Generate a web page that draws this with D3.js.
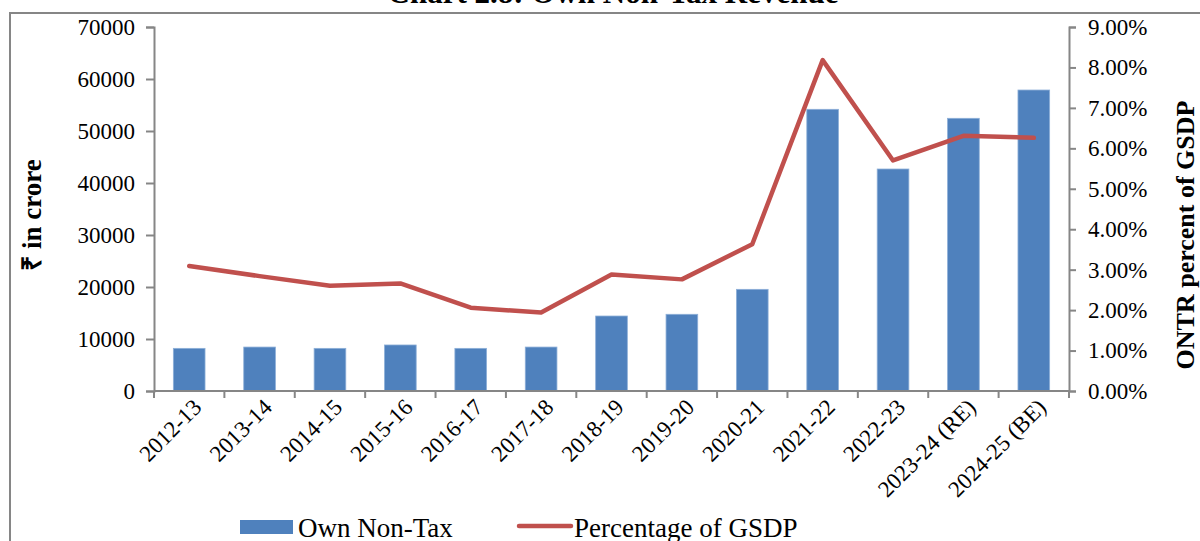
<!DOCTYPE html>
<html>
<head>
<meta charset="utf-8">
<script src="https://cdn.jsdelivr.net/npm/d3@7"></script>
<style>
  html, body { margin: 0; padding: 0; background: #fff; }
  svg { display: block; font-family: "Liberation Serif", "Times New Roman", serif; }
</style>
</head>
<body>
<svg id="chart" width="1200" height="541"></svg>
<script>
// Own non-tax revenue (₹ crore) and its share of GSDP, by year
const years = ["2012-13", "2013-14", "2014-15", "2015-16", "2016-17", "2017-18",
               "2018-19", "2019-20", "2020-21", "2021-22", "2022-23",
               "2023-24 (RE)", "2024-25 (BE)"];
const ownNonTax = [8200, 8450, 8200, 8850, 8200, 8450, 14420, 14750, 19550,
                   54170, 42690, 52440, 57880];
const pctGSDP = [3.09, 2.84, 2.60, 2.66, 2.06, 1.94, 2.88, 2.76, 3.63,
                 8.18, 5.70, 6.31, 6.26];
const leftTicks = [0, 10000, 20000, 30000, 40000, 50000, 60000, 70000];
const rightTicks = [0, 1, 2, 3, 4, 5, 6, 7, 8, 9];

const svg = d3.select("#chart");
const plot = { left: 154, right: 1069, top: 27, bottom: 391 };
const axisColor = "#868686";
const barColor = "#4F81BD";
const lineColor = "#C0504D";

// outer frame
svg.append("rect")
  .attr("x", 10).attr("y", 13)
  .attr("width", 1300).attr("height", 600)
  .attr("fill", "none").attr("stroke", axisColor).attr("stroke-width", 2);

// title
svg.append("text")
  .attr("x", 613).attr("y", 3)
  .attr("text-anchor", "middle")
  .attr("font-weight", "bold").attr("font-size", 31)
  .text("Chart 2.8: Own Non-Tax Revenue");

const x = d3.scaleBand().domain(years).range([plot.left, plot.right]).paddingInner(0.55).paddingOuter(0.275);
const xEdge = d3.scaleLinear().domain([0, years.length]).range([plot.left, plot.right]);
const yL = d3.scaleLinear().domain([0, 70000]).range([plot.bottom, plot.top]);
const yR = d3.scaleLinear().domain([0, 9]).range([plot.bottom, plot.top]);

// bars
svg.append("g").selectAll("rect")
  .data(ownNonTax)
  .join("rect")
  .attr("x", (d, i) => x(years[i]))
  .attr("y", d => yL(d))
  .attr("width", x.bandwidth())
  .attr("height", d => yL(0) - yL(d))
  .attr("fill", barColor)
  .attr("stroke", "#8DAFD8").attr("stroke-width", 0.8);

// left axis
const gL = svg.append("g").attr("transform", `translate(${plot.left},0)`)
  .call(d3.axisLeft(yL).tickValues(leftTicks).tickFormat(d3.format("d")).tickSizeOuter(0).tickSize(8).tickPadding(11));
// right axis
const gR = svg.append("g").attr("transform", `translate(${plot.right},0)`)
  .call(d3.axisRight(yR).tickValues(rightTicks).tickFormat(d => d.toFixed(2) + "%").tickSizeOuter(0).tickSize(7).tickPadding(12));
[gL, gR].forEach(g => {
  g.select(".domain").attr("stroke", axisColor).attr("stroke-width", 2);
  g.selectAll(".tick line").attr("stroke", axisColor).attr("stroke-width", 2);
  g.selectAll(".tick text").attr("font-size", 23).attr("fill", "#000")
    .attr("font-family", "Liberation Serif, Times New Roman, serif");
});

// x axis baseline and boundary ticks
const gX = svg.append("g");
gX.append("line")
  .attr("x1", plot.left).attr("x2", plot.right)
  .attr("y1", plot.bottom).attr("y2", plot.bottom)
  .attr("stroke", axisColor).attr("stroke-width", 2);
gX.selectAll("line.tk")
  .data(d3.range(years.length + 1))
  .join("line").attr("class", "tk")
  .attr("x1", d => xEdge(d)).attr("x2", d => xEdge(d))
  .attr("y1", plot.bottom).attr("y2", plot.bottom + 7)
  .attr("stroke", axisColor).attr("stroke-width", 2);
gX.selectAll("text")
  .data(years)
  .join("text")
  .attr("transform", d => `translate(${x(d) + x.bandwidth() / 2 + 8},${plot.bottom + 12}) rotate(-45)`)
  .attr("text-anchor", "end")
  .attr("dy", "0.35em")
  .attr("font-size", 23)
  .text(d => d);

// percentage line
const line = d3.line()
  .x((d, i) => x(years[i]) + x.bandwidth() / 2)
  .y(d => yR(d));
svg.append("path")
  .datum(pctGSDP)
  .attr("d", line)
  .attr("fill", "none")
  .attr("stroke", lineColor).attr("stroke-width", 4.5)
  .attr("stroke-linejoin", "round").attr("stroke-linecap", "round");

// axis titles
svg.append("text")
  .attr("transform", "translate(41,215) rotate(-90)")
  .attr("text-anchor", "middle")
  .attr("font-weight", "bold").attr("font-size", 27)
  .text("₹ in crore");
svg.append("text")
  .attr("transform", "translate(1194,235) rotate(-90)")
  .attr("text-anchor", "middle")
  .attr("font-weight", "bold").attr("font-size", 26)
  .text("ONTR percent of GSDP");

// legend
const lg = svg.append("g");
lg.append("rect").attr("x", 240).attr("y", 520).attr("width", 53).attr("height", 14).attr("fill", barColor);
lg.append("text").attr("x", 298).attr("y", 537).attr("font-size", 27).text("Own Non-Tax");
lg.append("line").attr("x1", 519).attr("x2", 571).attr("y1", 526).attr("y2", 526)
  .attr("stroke", lineColor).attr("stroke-width", 4.5).attr("stroke-linecap", "round");
lg.append("text").attr("x", 574).attr("y", 537).attr("font-size", 27).text("Percentage of GSDP");
</script>
</body>
</html>
